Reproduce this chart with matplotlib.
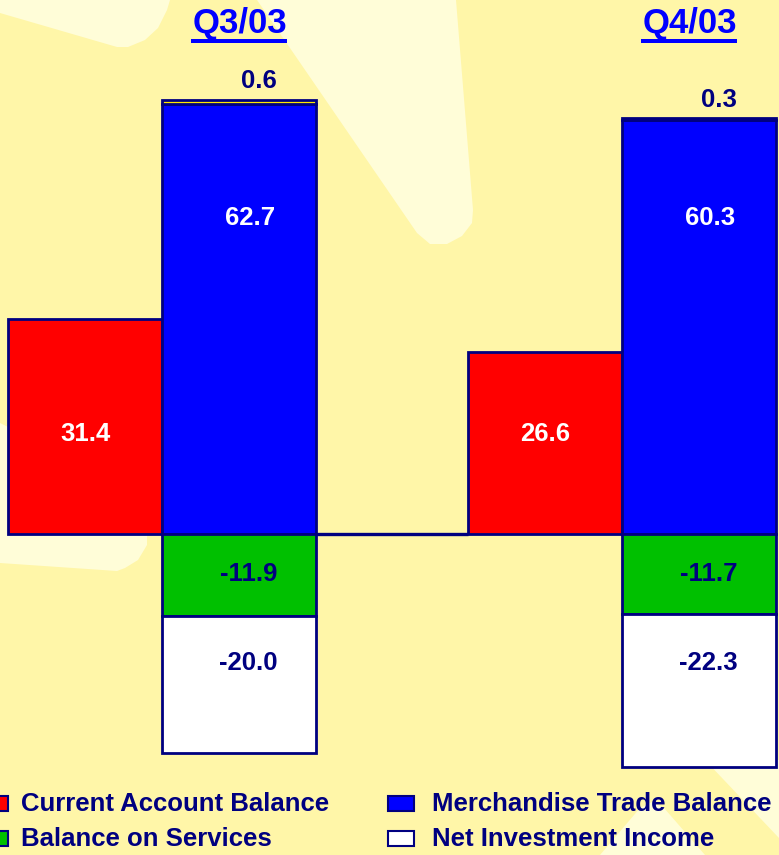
import matplotlib
matplotlib.use("Agg")
import matplotlib.pyplot as plt
from matplotlib.patches import Polygon, Rectangle
from matplotlib.transforms import Affine2D

# ---- data ----
quarters = ["Q3/03", "Q4/03"]
current_account = [31.4, 26.6]
merchandise = [62.7, 60.3]
services = [-11.9, -11.7]
net_investment = [-20.0, -22.3]
transfers = [0.6, 0.3]
legend_labels = ["Current Account Balance", "Merchandise Trade Balance",
                 "Balance on Services", "Net Investment Income"]

# ---- style ----
W, H = 779, 855
BG = "#FFF6A8"
LIGHT = "#FFFDD8"
NAVY = "#000080"
RED = "#FF0000"
BLUE = "#0000FF"
GREEN = "#00C000"
WHITE = "#FFFFFF"
YEL = "#FFE600"
FONT = "Liberation Sans"

fig = plt.figure(figsize=(W / 100, H / 100), dpi=100, facecolor=BG)
pix = Affine2D().scale(1 / W, -1 / H).translate(0, 1) + fig.transFigure

# background star shapes (decoration)
stars = [
    [(0, 0), (0, 13), (117, 47), (128, 47), (145, 40), (158, 28), (167, 10), (170, 0)],
    [(257, 0), (417, 233), (430, 244), (447, 244), (462, 236), (472, 223), (473, 210), (456, 0)],
    [(0, 423), (10, 428), (147, 520), (147, 545), (138, 560), (125, 568), (117, 571), (0, 563)],
    [(705, 760), (779, 760), (779, 838)],
    [(600, 855), (640, 808), (652, 802), (664, 808), (705, 855)],
]
for pts in stars:
    fig.patches.append(Polygon(pts, closed=True, transform=pix, facecolor=LIGHT,
                               edgecolor="none", zorder=-5))

ax = fig.add_axes([0, 0, 1, 1])
ax.set_zorder(2)
ax.set_facecolor("none")
ax.axis("off")
ax.set_xlim(-162 / 460, (W - 162) / 460)
ax.set_ylim(-(H - 534) / 6.86, 534 / 6.86)

x = [0, 1]
w = 154 / 460
xr = [xi - w / 2 for xi in x]
xb = [xi + w / 2 for xi in x]
kw = dict(width=w, edgecolor=NAVY, linewidth=2.0, zorder=3)

ax.bar(xr, current_account, color=RED, **kw)
ax.bar(xb, merchandise, color=BLUE, **kw)
ax.bar(xb, transfers, bottom=merchandise, color=YEL, **kw)
ax.bar(xb, services, color=GREEN, **kw)
ax.bar(xb, net_investment, bottom=services, color=WHITE, **kw)

# zero line between groups
ax.plot([xb[0] + w / 2, xr[1] - w / 2], [0, 0], color=NAVY, lw=2.4, zorder=2,
        solid_capstyle="butt")

lab = dict(fontfamily=FONT, fontweight="bold", fontsize=18.5, ha="center",
           va="center", zorder=5)
for i in range(2):
    top = merchandise[i] + transfers[i]
    ax.annotate(f"{transfers[i]:.1f}", (xb[i], top), xytext=(14, 13.5),
                textcoords="offset points", color=NAVY, **lab)
    ax.annotate(f"{merchandise[i]:.1f}", (xb[i], 46.1), xytext=(8, 0),
                textcoords="offset points", color=WHITE, **lab)
    ax.annotate(f"{current_account[i]:.1f}", (xr[i], 14.6), xytext=(0, 0),
                textcoords="offset points", color=WHITE, **lab)
    ax.annotate(f"{services[i]:.1f}", (xb[i], -5.8), xytext=(7, 0),
                textcoords="offset points", color=NAVY, **lab)
    ax.annotate(f"{net_investment[i]:.1f}", (xb[i], -18.8), xytext=(7, 0),
                textcoords="offset points", color=NAVY, **lab)

# titles with underline
title_x = [239.5, 689.5]
for q, px in zip(quarters, title_x):
    fig.text(px / W, 1 - 24 / H, q, fontfamily=FONT, fontweight="bold",
             fontsize=25, color=BLUE, ha="center", va="center")
    fig.patches.append(Rectangle((px - 48, 39), 96, 4, transform=pix,
                                 facecolor=BLUE, edgecolor="none"))

# legend (manual)
leg_colors = [RED, BLUE, GREEN, WHITE]
marker_x = [-18, 388, -18, 388]
text_x = [21, 432, 21, 432]
row_y = [803, 803, 838, 838]
for mx, tx, ly, col, txt in zip(marker_x, text_x, row_y, leg_colors, legend_labels):
    fig.patches.append(Rectangle((mx, ly - 7), 26, 15, transform=pix,
                                 facecolor=col, edgecolor=NAVY, linewidth=1.5))
    fig.text(tx / W, 1 - (ly + 1) / H, txt, fontfamily=FONT,
             fontweight="bold", fontsize=18.5, color=NAVY, ha="left",
             va="center")

fig.savefig("out.png", dpi=100, facecolor=BG)
